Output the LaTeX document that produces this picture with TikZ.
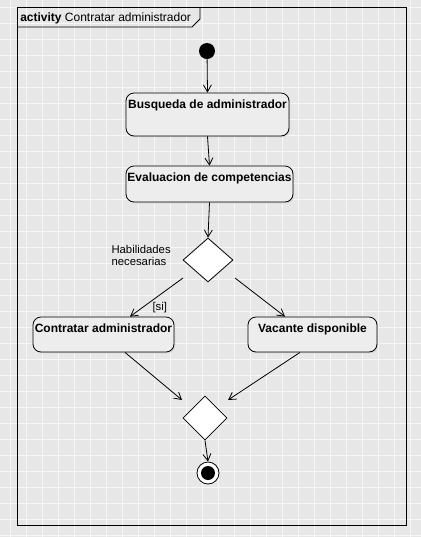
\documentclass[tikz,border=0pt]{standalone}
\usepackage{fontspec}
\setmainfont{Liberation Sans}
\usetikzlibrary{calc,arrows.meta,shapes.geometric,shadows}
\definecolor{fondo}{RGB}{231,231,231}
\definecolor{rejilla}{RGB}{247,247,247}
\definecolor{caja}{RGB}{237,237,237}
\def\pxl{0.75pt}
\tikzset{
  accion/.style={draw, rounded corners=6pt, fill=caja, line width=0.6pt,
    drop shadow={opacity=0.15, shadow xshift=1pt, shadow yshift=-1pt}},
  rotulo/.style={font=\fontsize{9}{10}\selectfont\bfseries, anchor=north, inner sep=0pt},
  decision/.style={draw, diamond, fill=white, inner sep=0pt, line width=0.6pt},
  flecha/.style={-{Straight Barb[angle=60:6pt]}, line width=0.6pt}
}

\begin{document}
\begin{tikzpicture}[x=0.75pt, y=-0.75pt]
			%%%%% FONDO %%%%%
			\useasboundingbox (0, 0) rectangle (421, 537);
			\fill[fondo] (0, 0) rectangle (421, 537);
			\foreach \k in {10, 26, ..., 421}
				\draw[rejilla, line width=0.5pt] (\k, 0) -- (\k, 537);
			\foreach \k in {7, 23, ..., 537}
				\draw[rejilla, line width=0.5pt] (0, \k) -- (421, \k);
			
			%%%%% MARCO %%%%%
			\draw[line width=0.7pt] (17, 7) rectangle (406, 525);
			\draw[line width=0.7pt] (200, 7) -- (200, 19) -- (192, 27) -- (17, 27);
			\node[anchor=base west, inner sep=0pt, font=\fontsize{9}{10}\selectfont] (titulo) at (20, 21)
				{\textbf{activity} Contratar administrador};
			
			%%%%% NODOS %%%%%
			\node[circle, fill=black, inner sep=0pt, minimum size=16*\pxl] (inicio) at (207, 51) {};
			
			\node[accion, minimum width=163*\pxl, minimum height=43*\pxl] (busqueda) at (207.5, 114.5) {};
			\node[rotulo] at ([yshift=-5pt]busqueda.north) {Busqueda de administrador};
			
			\node[accion, minimum width=167*\pxl, minimum height=36*\pxl] (evaluacion) at (209.5, 184) {};
			\node[rotulo] at ([yshift=-5pt]evaluacion.north) {Evaluacion de competencias};
			
			\node[decision, minimum width=50*\pxl, minimum height=44*\pxl] (habil) at (208, 260) {};
			\node[anchor=east, align=left, inner sep=0pt, font=\fontsize{8.5}{9}\selectfont] (habiltxt) at (171, 255)
				{Habilidades\\necesarias};
			
			\node[accion, minimum width=141*\pxl, minimum height=35*\pxl] (contratar) at (103.5, 334.5) {};
			\node[rotulo] at ([yshift=-5pt]contratar.north) {Contratar administrador};
			
			\node[accion, minimum width=129*\pxl, minimum height=35*\pxl] (vacante) at (312.5, 334.5) {};
			\node[rotulo] at ([yshift=-5pt]vacante.north) {Vacante disponible};
			
			\node[decision, minimum width=44*\pxl, minimum height=44*\pxl] (union) at (205, 418) {};
			
			\node[circle, draw, fill=white, line width=0.6pt, inner sep=0pt, minimum size=22*\pxl] (fin) at (208, 473) {};
			\fill (fin.center) circle (7*\pxl);
			
			%%%%% FLECHAS %%%%%
			\draw[flecha] (inicio) -- (busqueda.north);
			\draw[flecha] (busqueda.south) -- (evaluacion.north);
			\draw[flecha] (evaluacion.south) -- (habil.north);
			\draw[flecha] ([shift={(-25, 18)}]habil.center) -- node[pos=0.77, anchor=west, xshift=10*\pxl, inner sep=0pt, font=\fontsize{8.5}{9}\selectfont] {[si]} ([xshift=26.5*\pxl]contratar.north);
			\draw[flecha] ([shift={(27, 18)}]habil.center) -- ([xshift=-27.5*\pxl]vacante.north);
			\draw[flecha] ([xshift=21.5*\pxl]contratar.south) -- ([shift={(-23, -18)}]union.center);
			\draw[flecha] ([xshift=-12.5*\pxl]vacante.south) -- ([shift={(23, -18)}]union.center);
			\draw[flecha] (union.south) -- (fin.north);
		\end{tikzpicture}
\end{document}
